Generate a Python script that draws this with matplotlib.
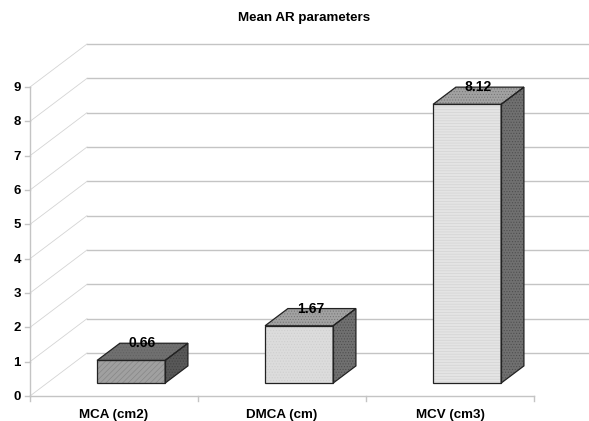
import matplotlib
matplotlib.use('Agg')
import matplotlib.pyplot as plt
from matplotlib.patches import Polygon

categories = ['MCA (cm2)', 'DMCA (cm)', 'MCV (cm3)']
values = [0.66, 1.67, 8.12]
value_labels = ['0.66', '1.67', '8.12']
yticks = [0, 1, 2, 3, 4, 5, 6, 7, 8, 9]

plt.rcParams['font.family'] = ['Liberation Sans', 'DejaVu Sans']
plt.rcParams['hatch.linewidth'] = 0.5

# pixel size of one category / one y unit, origin of the front plane
W, H = 589, 421
CAT_PX, UNIT_PX = 168, 34.33
X0, Y0 = 30, 396
# depth of the floor, in data units
DEPTH_X, DEPTH_Y = 57 / CAT_PX, 43 / UNIT_PX

GRID = '#c4c4c4'
BAR_W = 0.405
BAR_FRONT = 0.30  # how far bars sit back from the front edge
BAR_DEPTH = 0.40

front_col = ['#a0a0a0', '#dcdcdc', '#e4e4e4']
front_hatch = ['//////', '......', '------']
top_col = ['#707070', '#a2a2a2', '#a2a2a2']
side_col = ['#585858', '#707070', '#707070']

fig = plt.figure(figsize=(W / 100, H / 100), dpi=100)
ax = fig.add_axes([0, 0, 1, 1])
ax.set_xlim(-X0 / CAT_PX, (W - X0) / CAT_PX)
ax.set_ylim((Y0 - H) / UNIT_PX, Y0 / UNIT_PX)
ax.axis('off')

xmax = (W - X0) / CAT_PX

# back wall grid + left wall diagonals
for v in yticks:
    ax.plot([DEPTH_X, xmax], [v + DEPTH_Y, v + DEPTH_Y], color=GRID, lw=1, zorder=1)
    ax.plot([0, DEPTH_X], [v, v + DEPTH_Y], color='#d4d4d4', lw=0.6, zorder=1)
    ax.plot([-5 / CAT_PX, 0], [v, v], color=GRID, lw=1, zorder=1)
    ax.text(-9 / CAT_PX, v - 1 / UNIT_PX, str(v), ha='right', va='center', fontsize=9.5,
            fontweight='bold', zorder=5)

# axes
ax.plot([0, 0], [0, yticks[-1]], color=GRID, lw=1, zorder=1)
ax.plot([0, len(categories)], [0, 0], color=GRID, lw=1, zorder=1)
for i in range(len(categories) + 1):
    ax.plot([i, i], [0, -5 / UNIT_PX], color=GRID, lw=1, zorder=1)


def face(pts, color, hatch=None, hatch_col='#ffffff'):
    ax.add_patch(Polygon(pts, closed=True, facecolor=color, edgecolor='none', zorder=3))
    if hatch:
        ax.add_patch(Polygon(pts, closed=True, facecolor='none', edgecolor=hatch_col,
                             hatch=hatch, lw=0, alpha=0.5, zorder=3))
    ax.add_patch(Polygon(pts, closed=True, fill=False, edgecolor='#222222', lw=0.9, zorder=4))


for i, (cat, val, lab) in enumerate(zip(categories, values, value_labels)):
    left = i + 0.5 - BAR_W / 2 + BAR_FRONT * DEPTH_X
    right = left + BAR_W
    base = BAR_FRONT * DEPTH_Y
    top = base + val
    dx, dy = BAR_DEPTH * DEPTH_X, BAR_DEPTH * DEPTH_Y

    face([(left, base), (right, base), (right, top), (left, top)],
         front_col[i], front_hatch[i], '#6e6e6e' if i == 0 else '#c4c4c4')
    face([(left, top), (right, top), (right + dx, top + dy), (left + dx, top + dy)],
         top_col[i], '......', '#555555')
    face([(right, base), (right + dx, base + dy), (right + dx, top + dy), (right, top)],
         side_col[i], '......', '#333333')

    ax.text((left + right) / 2 + dx / 2, top + dy, lab, ha='center', va='center',
            fontsize=10, fontweight='bold', zorder=6)
    ax.text(i + 0.5, -19 / UNIT_PX, cat, ha='center', va='center', fontsize=9.6,
            fontweight='bold', zorder=5)

fig.text(304 / W, 1 - 18 / H, 'Mean AR parameters', ha='center', va='center',
         fontsize=9.6, fontweight='bold')

fig.savefig('out.png', dpi=100)
